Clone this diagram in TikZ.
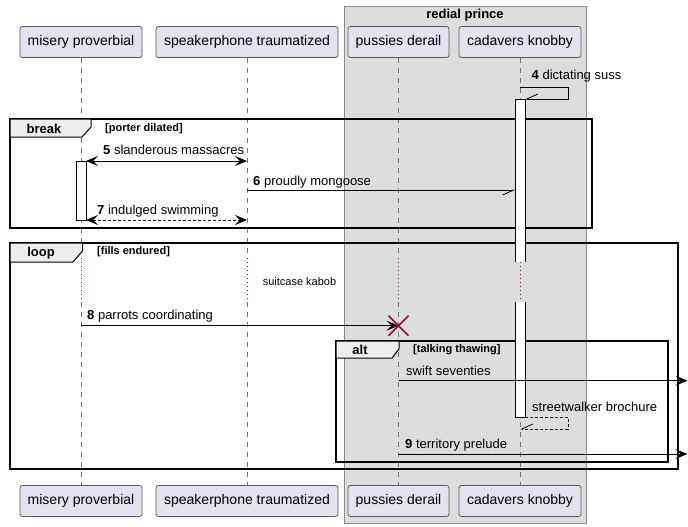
\documentclass[tikz,border=0pt]{standalone}
\usepackage{fontspec}
\setmainfont{Liberation Sans}
\usetikzlibrary{arrows.meta}
\definecolor{partfill}{HTML}{E2E2F0}
\definecolor{partline}{HTML}{5A5A5A}
\definecolor{grpfill}{HTML}{DDDDDD}
\definecolor{grpline}{HTML}{8A8A8A}
\definecolor{tabfill}{HTML}{EEEEEE}
\definecolor{crim}{HTML}{A80036}
\tikzset{
  x=1pt,y=-1pt,
  part/.style={draw=partline,fill=partfill,rounded corners=2.5pt,line width=0.8pt,minimum height=31pt,inner sep=0pt,font=\fontsize{14}{16}\selectfont},
  life/.style={draw=black!55,line width=0.7pt,dash pattern=on 5pt off 5pt},
  delayline/.style={draw=crim,line width=0.9pt,dash pattern=on 1pt off 3pt},
  msgtxt/.style={anchor=west,inner sep=0pt,font=\fontsize{13}{15}\selectfont},
  frm/.style={draw=black,line width=1.5pt},
  tab/.style={draw=black,fill=tabfill,line width=1pt},
  kw/.style={inner sep=0pt,font=\bfseries\fontsize{13}{15}\selectfont},
  guard/.style={anchor=west,inner sep=0pt,font=\bfseries\fontsize{11}{13}\selectfont},
  act/.style={draw=black,fill=white,line width=1pt},
  msg/.style={draw=black,line width=1pt},
  fullhead/.style={-{Stealth[length=12pt,width=10pt,inset=5pt]}},
  bothhead/.style={{Stealth[length=12pt,width=10pt,inset=5pt]}-{Stealth[length=12pt,width=10pt,inset=5pt]}},
  halfhead/.style={-{Straight Barb[harpoon,swap,length=11pt,width=10pt,line width=0.8pt]}},
  ret/.style={dash pattern=on 3pt off 2pt},
}
\begin{document}
\begin{tikzpicture}
\useasboundingbox (0,0) rectangle (688,527);
% group
\draw[draw=grpline,fill=grpfill,line width=0.8pt] (344,6) rectangle (586,523);
\node[kw] (gtitle) at (465,15) {redial prince};
% participants
\node[part,minimum width=122pt] (pA) at (81,42) {misery proverbial};
\node[part,minimum width=182pt] (pB) at (247,42) {speakerphone traumatized};
\node[part,minimum width=101pt] (pC) at (398.5,42) {pussies derail};
\node[part,minimum width=122pt] (pD) at (520,42) {cadavers knobby};
\node[part,minimum width=122pt] (qA) at (81,501) {misery proverbial};
\node[part,minimum width=182pt] (qB) at (247,501) {speakerphone traumatized};
\node[part,minimum width=101pt] (qC) at (398.5,501) {pussies derail};
\node[part,minimum width=122pt] (qD) at (520,501) {cadavers knobby};
% lifelines with delay gap
\foreach \n/\xx in {A/81,B/247,C/398.5,D/520}{
  \coordinate (d1\n) at (\xx,258);
  \coordinate (d2\n) at (\xx,302);
  \draw[life] (p\n.south) -- (d1\n);
  \draw[life] (d2\n) -- (q\n.north);
  \draw[delayline] (d1\n) -- (d2\n);
}
\node[inner sep=0pt,font=\fontsize{11}{13}\selectfont] (delaytxt) at (299.5,282) {suitcase kabob};
% frames
\draw[frm] (10,119) rectangle (592,228);
\draw[tab] (10,119) -- (91,119) -- (91,127) -- (82,137) -- (10,137) -- cycle;
\node[kw] (kbreak) at (44,128.5) {break};
\node[guard] (gbreak) at (105,129) {[porter dilated]};
\draw[frm] (10,243) rectangle (678,469);
\draw[tab] (10,243) -- (82.5,243) -- (82.5,251) -- (73,262) -- (10,262) -- cycle;
\node[kw] (kloop) at (41,253) {loop};
\node[guard] (gloop) at (97,251.5) {[fills endured]};
\draw[frm] (336,341) rectangle (668,462);
\draw[tab] (336,341) -- (399,341) -- (399,349) -- (392,358) -- (336,358) -- cycle;
\node[kw] (kalt) at (360,350) {alt};
\node[guard] (galt) at (413,350) {[talking thawing]};
% activations
\fill[white] (515.5,99) rectangle (525,262);
\draw[line width=1pt] (515.5,262) -- (515.5,99) -- (525,99) -- (525,262);
\fill[white] (515.5,302) rectangle (525,417);
\draw[line width=1pt] (515.5,302) -- (515.5,417) -- (525,417) -- (525,302);
\draw[delayline] (520,262) -- (520,302);
\draw[act] (76,161) rectangle (86,220);
% message 4 (self)
\coordinate (m4a) at (520,87);
\coordinate (m4b) at (568,87);
\coordinate (m4c) at (568,99);
\coordinate (m4d) at (525,99);
\draw[msg,halfhead] (m4a) -- (m4b) -- (m4c) -- (m4d);
\node[msgtxt] (t4) at (531.5,76) {\textbf{4} dictating suss};
% message 5
\coordinate (m5a) at (86,161);
\coordinate (m5b) at (247,161);
\draw[msg,bothhead] (m5a) -- (m5b);
\node[msgtxt] (t5) at (103,150) {\textbf{5} slanderous massacres};
% message 6
\coordinate (m6a) at (247,190);
\coordinate (m6b) at (515.5,190);
\draw[msg,halfhead] (m6a) -- (m6b);
\node[msgtxt] (t6) at (253,182) {\textbf{6} proudly mongoose};
% message 7
\coordinate (m7a) at (86,220);
\coordinate (m7b) at (247,220);
\draw[msg,ret,bothhead] (m7a) -- (m7b);
\node[msgtxt] (t7) at (97,211.5) {\textbf{7} indulged swimming};
% message 8
\coordinate (m8a) at (81,325.7);
\coordinate (m8b) at (398.5,325.7);
\draw[msg,fullhead] (m8a) -- (m8b);
\node[msgtxt] (t8) at (87,316) {\textbf{8} parrots coordinating};
\draw[crim,line width=1.6pt] (388.5,315.7) -- (408.5,335.7) (388.5,335.7) -- (408.5,315.7);
% swift seventies
\coordinate (ms1) at (398.5,380.7);
\coordinate (ms2) at (687.5,380.7);
\draw[msg,fullhead] (ms1) -- (ms2);
\node[msgtxt] (ts) at (406,371) {swift seventies};
% streetwalker brochure
\coordinate (mr1) at (525,417);
\coordinate (mr2) at (568,417);
\coordinate (mr3) at (568,429);
\coordinate (mr4) at (520,429);
\draw[msg,ret,halfhead] (mr1) -- (mr2) -- (mr3) -- (mr4);
\node[msgtxt] (tr) at (532,407) {streetwalker brochure};
% message 9
\coordinate (m9a) at (398.5,454);
\coordinate (m9b) at (687.5,454);
\draw[msg,fullhead] (m9a) -- (m9b);
\node[msgtxt] (t9) at (405,445) {\textbf{9} territory prelude};
\end{tikzpicture}
\end{document}
